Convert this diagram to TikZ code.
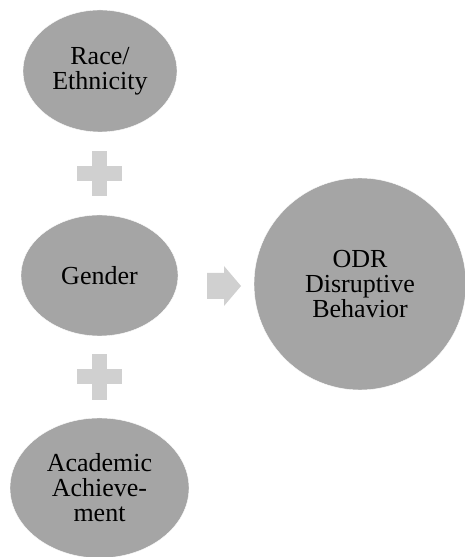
\documentclass[tikz,border=0pt]{standalone}
\usepackage{fontspec}
\setmainfont{Liberation Serif}
\usepackage{xcolor}
\usepackage{tikz}
\usetikzlibrary{shapes, positioning, calc}
\definecolor{factorgray}{HTML}{A5A5A5}
\definecolor{signgray}{HTML}{D0D0D0}
\tikzset{
    factor/.style={ellipse, fill=factorgray, draw=white, inner sep=0pt, align=center, font=\fontsize{26}{25}\selectfont},
    outcome/.style={circle, fill=factorgray, draw=white, inner sep=0pt, minimum size=212pt, align=center, font=\fontsize{26}{25}\selectfont},
    signfill/.style={fill=signgray}
}
\begin{document}
\begin{tikzpicture}[x=1pt, y=1pt]
    \useasboundingbox (0,0) rectangle (464,557);

    % Factors
    \node[factor, minimum width=154pt, minimum height=122pt] (race) at (100, 486) {Race/\\Ethnicity};
    \node[factor, minimum width=157pt, minimum height=121pt] (gender) at (99.5, 281.5) {Gender};
    \node[factor, minimum width=179pt, minimum height=140pt] (academic) at (99.5, 69) {Academic\\Achieve-\\ment};

    % Outcome
    \node[outcome] (odr) at (360, 273) {ODR\\Disruptive\\Behavior};

    % Plus signs
    \coordinate (plusA) at ($(race.south)!0.5!(gender.north)$);
    \coordinate (plusB) at ($(gender.south)!0.5!(academic.north)$);
    \fill[signfill] ($(plusA)+(-22.5,-7.5)$) rectangle ($(plusA)+(22.5,7.5)$);
    \fill[signfill] ($(plusA)+(-7.5,-22.5)$) rectangle ($(plusA)+(7.5,22.5)$);
    \fill[signfill] ($(plusB)+(-22.5,-7.5)$) rectangle ($(plusB)+(22.5,7.5)$);
    \fill[signfill] ($(plusB)+(-7.5,-23)$) rectangle ($(plusB)+(7.5,23)$);

    % Arrow
    \coordinate (arr) at (224, 271);
    \fill[signfill] ($(arr)+(-17,-13)$) -- ($(arr)+(0,-13)$) -- ($(arr)+(0,-20)$)
        -- ($(arr)+(17,0)$) -- ($(arr)+(0,20)$) -- ($(arr)+(0,13)$) -- ($(arr)+(-17,13)$) -- cycle;
\end{tikzpicture}
\end{document}
